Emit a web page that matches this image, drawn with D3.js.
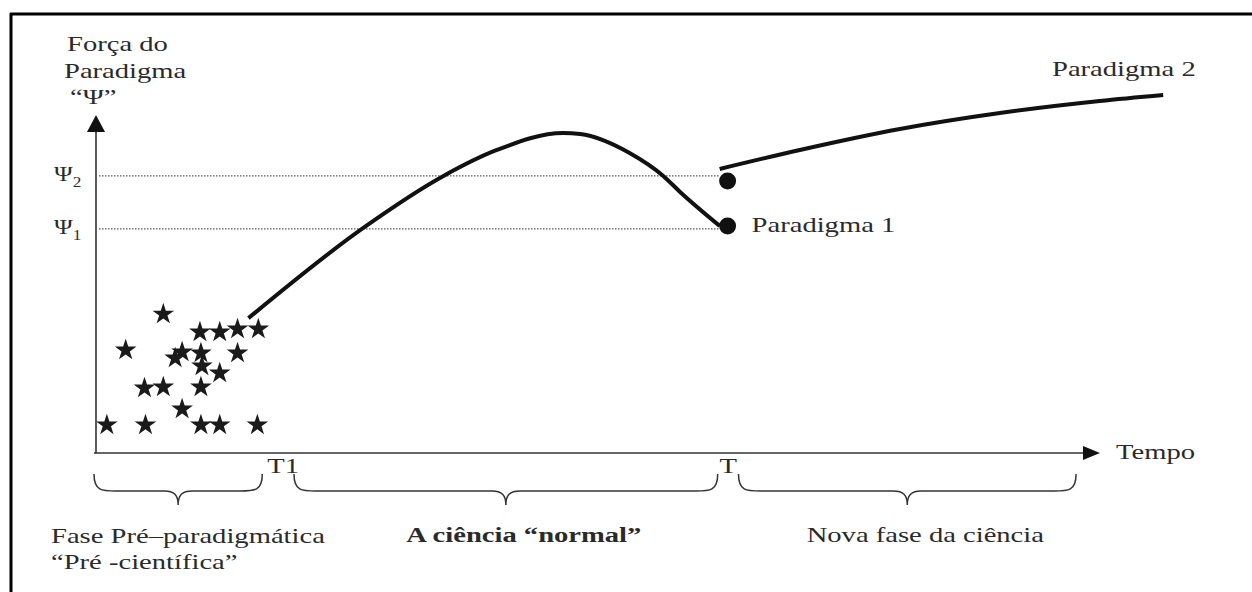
<!DOCTYPE html>
<html><head><meta charset="utf-8">
<script src="https://cdn.jsdelivr.net/npm/d3@7"></script>
<style>body{margin:0;background:#fff}svg{display:block}</style>
</head><body>
<script>
// ---- data (time units 0..100, strength units 0..100) ----
const starX = [7.0,10.7,12.7,14.5,16.6,3.2,8.9,8.2,10.8,14.5,10.9,12.7,5.1,7.0,10.8,8.9,1.3,5.2,10.8,12.7,16.5];
const starY = [41.7,36.3,36.3,37.2,37.2,30.9,30.3,28.5,30.0,30.0,26.1,24.0,19.5,19.8,19.8,13.2,8.4,8.4,8.4,8.4,8.4];
const par1X = [15.6,27.2,35.3,40.7,47.4,49.1,54.1,57.5,59.2,63.2];
const par1Y = [40.5,67.6,83.2,91.0,96.1,95.8,90.1,83.2,78.4,68.2];
const par2X = [63.2,71.3,81.4,91.5,101.6,108.0];
const par2Y = [85.3,91.0,97.3,102.1,105.7,107.5];
const psiLevels = [67.3, 83.2];
const psiNames = ["1","2"];
const dotX = [64.0, 64.0];
const dotY = [68.2, 81.7];
const tMarks = [18.3, 64.0];
const tNames = ["T1","T"];
const phaseStart = [0, 20.2, 65.1];
const phaseEnd = [17.0, 63.0, 99.2];
const phaseLabels = ["Fase Pré\u2013paradigmática", "A ciência \u201cnormal\u201d", "Nova fase da ciência"];

const W = 1252, H = 592;
const svg = d3.select("body").append("svg").attr("width", W).attr("height", H);
const x = d3.scaleLinear().domain([0,100]).range([94,1084]);
const y = d3.scaleLinear().domain([0,100]).range([453,120]);
const SX = 1.3, FS = 22, FONT = "'Liberation Serif','Times New Roman',serif", TC = "#2a2a2a";

// frame
svg.append("line").attr("x1",10).attr("x2",W).attr("y1",14).attr("y2",14).attr("stroke","#000").attr("stroke-width",3);
svg.append("line").attr("x1",11).attr("x2",11).attr("y1",13).attr("y2",H).attr("stroke","#000").attr("stroke-width",3);

function txt(px, py, s, opt={}) {
  const t = svg.append("text").attr("transform",`translate(${px},${py}) scale(${opt.sx||SX},1)`)
    .attr("font-family",FONT).attr("font-size",opt.fs||FS).attr("fill",TC)
    .attr("font-weight",opt.bold?"bold":"normal").attr("text-anchor",opt.anchor||"start");
  t.text(s);
  return t;
}

// axes
const ax = x(0)+2;
svg.append("line").attr("x1",ax).attr("x2",ax).attr("y1",y(0)).attr("y2",130).attr("stroke","#333").attr("stroke-width",1.6);
svg.append("path").attr("d",`M${ax},115 L${ax-9},132 L${ax+9},132 Z`).attr("fill","#111");
svg.append("line").attr("x1",x(0)).attr("x2",x(100)).attr("y1",y(0)).attr("y2",y(0)).attr("stroke","#333").attr("stroke-width",1.6);
svg.append("path").attr("d",`M${x(100)+16},${y(0)} L${x(100)-1},${y(0)-7} L${x(100)-1},${y(0)+7} Z`).attr("fill","#111");

// psi dotted levels
svg.selectAll(".psi").data(psiLevels).join("line")
  .attr("x1",ax+3).attr("x2",x(63.2)).attr("y1",d=>y(d)).attr("y2",d=>y(d))
  .attr("stroke","#555").attr("stroke-width",1.2).attr("stroke-dasharray","1.5,1.5");
psiLevels.forEach((v,i)=>{
  const t = txt(54, y(v)+5, "Ψ", {sx:1.15});
  t.append("tspan").attr("font-size",15).attr("dy",6).text(psiNames[i]);
});

// stars
const star = d3.symbol().type(d3.symbolStar).size(145);
svg.selectAll(".star").data(starX.map((v,i)=>[v,starY[i]])).join("path")
  .attr("d",star).attr("transform",d=>`translate(${x(d[0])},${y(d[1])})`).attr("fill","#1a1a1a");

// paradigm curves
const line = d3.line().x(d=>x(d[0])).y(d=>y(d[1])).curve(d3.curveMonotoneX);
svg.append("path").attr("d",line(par1X.map((v,i)=>[v,par1Y[i]]))).attr("fill","none").attr("stroke","#111").attr("stroke-width",4);
svg.append("path").attr("d",line(par2X.map((v,i)=>[v,par2Y[i]]))).attr("fill","none").attr("stroke","#111").attr("stroke-width",4);
svg.selectAll(".dot").data(dotX.map((v,i)=>[v,dotY[i]])).join("circle")
  .attr("cx",d=>x(d[0])).attr("cy",d=>y(d[1])).attr("r",8.5).attr("fill","#111");

// braces
function brace(x0,x1,yt,dep){
  const xm=(x0+x1)/2, ym=yt+dep*0.55, yb=yt+dep;
  return `M${x0},${yt} C${x0},${ym} ${x0+8},${ym} ${x0+22},${ym} L${xm-14},${ym} C${xm-4},${ym} ${xm},${ym+4} ${xm},${yb} C${xm},${ym+4} ${xm+4},${ym} ${xm+14},${ym} L${x1-22},${ym} C${x1-8},${ym} ${x1},${ym} ${x1},${yt}`;
}
phaseStart.forEach((s,i)=>{
  svg.append("path").attr("d",brace(x(s),x(phaseEnd[i]),474,31)).attr("fill","none").attr("stroke","#333").attr("stroke-width",1.5);
});

// texts
txt(67,51,"Força do");
txt(64,78,"Paradigma");
txt(70,104,"\u201cΨ\u201d");
tMarks.forEach((t,i)=>txt(x(t)-8, 473, tNames[i]));
txt(1116,459,"Tempo");
txt(x(dotX[0])+24, y(dotY[0])+6, "Paradigma 1");
txt(1052,76,"Paradigma 2");
txt(51,543,phaseLabels[0]);
txt(51,569,"\u201cPré -científica\u201d");
txt((x(phaseStart[1])+x(phaseEnd[1]))/2+18, 542, phaseLabels[1], {bold:true, anchor:"middle"});
txt((x(phaseStart[2])+x(phaseEnd[2]))/2+18, 542, phaseLabels[2], {anchor:"middle"});
</script>
</body></html>
